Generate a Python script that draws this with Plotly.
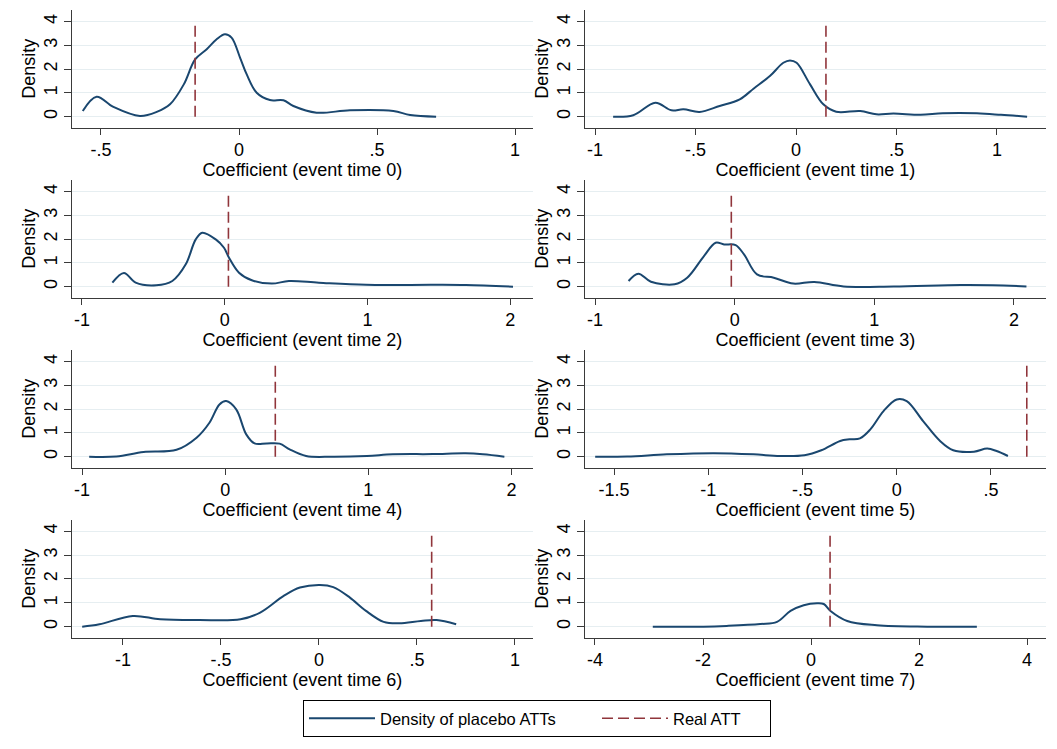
import plotly.graph_objects as go

# ---------------- data ----------------
titles = [f"Coefficient (event time {k})" for k in range(8)]

real_att = [-0.159, 0.149, 0.026, -0.024, 0.35, 0.69, 0.575, 0.352]

dens_x0 = [-0.566, -0.516, -0.455, -0.359, -0.298, -0.25, -0.20, -0.159, -0.117, -0.081, -0.051,
           -0.027, 0.004, 0.028, 0.064, 0.112, 0.161, 0.197, 0.281, 0.402, 0.559, 0.62, 0.714]
dens_y0 = [0.24, 0.84, 0.41, 0.03, 0.2, 0.52, 1.36, 2.41, 2.84, 3.26, 3.47,
           3.33, 2.48, 1.78, 1.01, 0.70, 0.69, 0.45, 0.17, 0.27, 0.24, 0.07, 0.0]

dens_x1 = [-0.91, -0.81, -0.70, -0.62, -0.56, -0.48, -0.38, -0.28, -0.21, -0.13, -0.063, -0.03,
           0.003, 0.07, 0.136, 0.20, 0.32, 0.40, 0.485, 0.62, 0.73, 0.90, 1.02, 1.15]
dens_y1 = [0.0, 0.06, 0.59, 0.27, 0.31, 0.2, 0.45, 0.73, 1.19, 1.71, 2.27, 2.37,
           2.27, 1.36, 0.52, 0.21, 0.24, 0.1, 0.13, 0.08, 0.14, 0.14, 0.08, 0.0]

dens_x2 = [-0.787, -0.706, -0.624, -0.48, -0.367, -0.273, -0.203, -0.157, -0.063, -0.005, 0.03,
           0.10, 0.19, 0.33, 0.45, 0.66, 0.99, 1.46, 1.69, 2.02]
dens_y2 = [0.17, 0.58, 0.17, 0.06, 0.24, 0.94, 1.99, 2.27, 1.99, 1.64, 1.22,
           0.59, 0.27, 0.13, 0.24, 0.17, 0.08, 0.08, 0.07, 0.0]

dens_x3 = [-0.76, -0.69, -0.60, -0.43, -0.34, -0.22, -0.136, -0.076, 0.007, 0.067, 0.16,
           0.28, 0.42, 0.57, 0.78, 1.14, 1.62, 1.85, 2.09]
dens_y3 = [0.24, 0.55, 0.21, 0.10, 0.38, 1.29, 1.85, 1.78, 1.75, 1.36, 0.52,
           0.38, 0.13, 0.2, 0.01, 0.01, 0.07, 0.06, 0.01]

dens_x4 = [-0.95, -0.76, -0.57, -0.34, -0.20, -0.11, -0.04, 0.007, 0.077, 0.147, 0.205,
           0.29, 0.38, 0.45, 0.565, 0.75, 0.99, 1.17, 1.45, 1.68, 1.80, 1.95]
dens_y4 = [0.0, 0.01, 0.2, 0.29, 0.8, 1.43, 2.2, 2.34, 1.99, 0.94, 0.56,
           0.56, 0.55, 0.31, 0.03, 0.0, 0.03, 0.1, 0.11, 0.14, 0.1, 0.0]

dens_x5 = [-1.60, -1.43, -1.22, -0.97, -0.76, -0.62, -0.49, -0.40, -0.30, -0.25, -0.195,
           -0.14, -0.07, 0.0, 0.053, 0.14, 0.23, 0.30, 0.41, 0.48, 0.53, 0.59]
dens_y5 = [0.0, 0.01, 0.1, 0.15, 0.1, 0.03, 0.06, 0.27, 0.66, 0.73, 0.77,
           1.15, 1.92, 2.41, 2.34, 1.5, 0.66, 0.27, 0.21, 0.34, 0.24, 0.03]

dens_x6 = [-1.208, -1.12, -0.95, -0.81, -0.61, -0.40, -0.30, -0.18, -0.097, 0.005, 0.073,
           0.158, 0.24, 0.33, 0.41, 0.52, 0.60, 0.70]
dens_y6 = [0.0, 0.1, 0.45, 0.31, 0.28, 0.31, 0.59, 1.29, 1.64, 1.75, 1.66,
           1.22, 0.66, 0.2, 0.14, 0.24, 0.28, 0.1]

dens_x7 = [-2.93, -1.99, -1.56, -0.94, -0.63, -0.38, -0.136, 0.11, 0.235, 0.36, 0.67,
           1.22, 2.15, 3.07]
dens_y7 = [0.0, 0.0, 0.03, 0.11, 0.2, 0.66, 0.9, 0.98, 0.95, 0.66, 0.24,
           0.06, 0.0, 0.0]

dens_x = [dens_x0, dens_x1, dens_x2, dens_x3, dens_x4, dens_x5, dens_x6, dens_x7]
dens_y = [dens_y0, dens_y1, dens_y2, dens_y3, dens_y4, dens_y5, dens_y6, dens_y7]

x_ranges = [[-0.605, 1.065], [-1.05, 1.244], [-1.07, 2.16], [-1.072, 2.23],
            [-1.07, 2.15], [-1.654, 0.792], [-1.26, 1.092], [-4.185, 4.35]]
x_tickvals = [[-0.5, 0, 0.5, 1], [-1, -0.5, 0, 0.5, 1], [-1, 0, 1, 2], [-1, 0, 1, 2],
              [-1, 0, 1, 2], [-1.5, -1, -0.5, 0, 0.5], [-1, -0.5, 0, 0.5, 1], [-4, -2, 0, 2, 4]]
x_ticktext = [["-.5", "0", ".5", "1"], ["-1", "-.5", "0", ".5", "1"], ["-1", "0", "1", "2"],
              ["-1", "0", "1", "2"], ["-1", "0", "1", "2"], ["-1.5", "-1", "-.5", "0", ".5"],
              ["-1", "-.5", "0", ".5", "1"], ["-4", "-2", "0", "2", "4"]]
y_tickvals = [0, 1, 2, 3, 4]
y_ticktext = ["0", "1", "2", "3", "4"]

legend_names = ["Density of placebo ATTs", "Real ATT"]

# ---------------- styling ----------------
NAVY = "#1a476f"
MAROON = "#90353b"
GRID = "#e6eef1"
AXIS = "#3a3a3a"
FONT = "Liberation Sans, Arial, sans-serif"

# page body has a default margin, so the figure starts slightly inside the window
OFF_X, OFF_Y = 8, 7
W, H = 1057 - OFF_X, 749 - OFF_Y

def px_x(p):
    return (p - OFF_X) / W

def px_y(p):
    return 1 - (p - OFF_Y) / H

col_px = [(72, 533), (585, 1046)]
col_domains = [[px_x(a), px_x(b)] for a, b in col_px]
row_px = [(9, 126.7), (179, 296.7), (349, 466.7), (518.6, 636.7)]
row_domains = [[px_y(b), px_y(t)] for t, b in row_px]
legend_item_widths = [212, 92]

fig = go.Figure()
layout = dict(
    width=W, height=H,
    margin=dict(l=0, r=0, t=0, b=0),
    paper_bgcolor="white", plot_bgcolor="white",
    font=dict(family=FONT, size=18, color="black"),
    showlegend=True,
    legend=dict(
        orientation="h", x=px_x(537), xanchor="center", y=px_y(699), yanchor="top",
        bordercolor="black", borderwidth=1, bgcolor="white",
        font=dict(size=16.5), itemwidth=66,
        traceorder="normal",
    ),
)

for k in range(8):
    r, c = divmod(k, 2)
    ax = "" if k == 0 else str(k + 1)
    xref = "x" + ax
    yref = "y" + ax
    fig.add_trace(go.Scatter(
        x=dens_x[k], y=dens_y[k], mode="lines", xaxis=xref, yaxis=yref,
        line=dict(color=NAVY, width=2, shape="spline", smoothing=1.0),
        name=legend_names[0], showlegend=(k == 0), legendgroup="d", hoverinfo="skip",
        legendwidth=legend_item_widths[0],
    ))
    fig.add_trace(go.Scatter(
        x=[real_att[k], real_att[k]], y=[0, 4], mode="lines", xaxis=xref, yaxis=yref,
        line=dict(color=MAROON, width=1.6, dash="11px,5px"),
        name=legend_names[1], showlegend=(k == 0), legendgroup="r", hoverinfo="skip",
        legendwidth=legend_item_widths[1],
    ))
    layout["xaxis" + ax] = dict(
        domain=col_domains[c], anchor=yref, range=x_ranges[k],
        tickmode="array", tickvals=x_tickvals[k], ticktext=x_ticktext[k],
        ticks="outside", ticklen=6, tickwidth=1, tickcolor=AXIS,
        showline=True, linecolor=AXIS, linewidth=1.3, mirror=False,
        showgrid=False, zeroline=False,
        tickfont=dict(size=18),
        title=dict(text=titles[k], font=dict(size=18), standoff=0),
        fixedrange=True,
    )
    layout["yaxis" + ax] = dict(
        domain=row_domains[r], anchor=xref, range=[-0.463, 4.49],
        tickmode="array", tickvals=y_tickvals, ticktext=y_ticktext,
        ticks="outside", ticklen=7, tickwidth=1, tickcolor=AXIS, tickangle=-90,
        showline=True, linecolor=AXIS, linewidth=1.3,
        showgrid=True, gridcolor=GRID, gridwidth=1.3, zeroline=False,
        tickfont=dict(size=18),
        title=dict(text="Density", font=dict(size=18), standoff=0),
        fixedrange=True,
    )

fig.update_layout(**layout)
fig.write_html("out.html")
